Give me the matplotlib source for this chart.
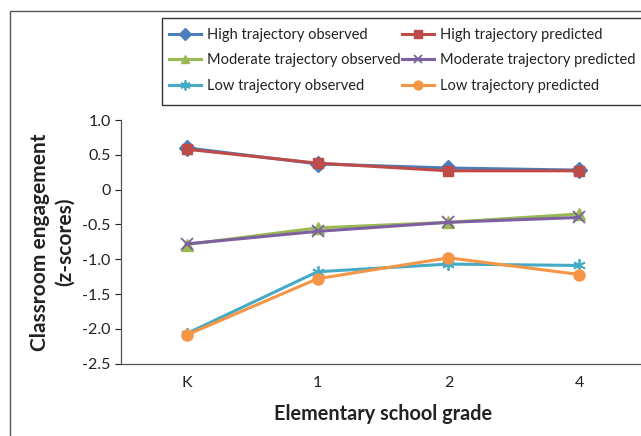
import matplotlib
matplotlib.use("Agg")
import matplotlib.pyplot as plt
from matplotlib.patches import Rectangle

plt.rcParams['font.family'] = ['Lato', 'DejaVu Sans']

grades = ["K", "1", "2", "4"]
high_obs = [0.60, 0.37, 0.31, 0.28]
high_pred = [0.58, 0.38, 0.27, 0.27]
mod_obs = [-0.79, -0.55, -0.47, -0.35]
mod_pred = [-0.78, -0.60, -0.47, -0.40]
low_obs = [-2.07, -1.18, -1.07, -1.09]
low_pred = [-2.09, -1.28, -0.98, -1.22]
y_ticks = [1.0, 0.5, 0.0, -0.5, -1.0, -1.5, -2.0, -2.5]
y_tick_labels = ["1.0", "0.5", "0", "-0.5", "-1.0", "-1.5", "-2.0", "-2.5"]

W, H = 641, 436
fig = plt.figure(figsize=(W / 100, H / 100), dpi=100)
ax = fig.add_axes([121 / W, (H - 363.6) / H, 524 / W, (363.6 - 120) / H])

x = list(range(len(grades)))
series = [
    ("High trajectory observed", high_obs, "#4A7EBB", "D", 8),
    ("High trajectory predicted", high_pred, "#BE4B48", "s", 7.5),
    ("Moderate trajectory observed", mod_obs, "#98B954", "^", 8),
    ("Moderate trajectory predicted", mod_pred, "#7D60A0", "x", 8),
    ("Low trajectory observed", low_obs, "#46AAC5", (6, 2, 0), 9),
    ("Low trajectory predicted", low_pred, "#F59646", "o", 8),
]
handles = {}
for name, vals, col, mk, ms in series:
    mew = 1.3 if mk == "x" or isinstance(mk, tuple) else 1.0
    h, = ax.plot(x, vals, color=col, lw=2.2, marker=mk, ms=ms,
                 markerfacecolor=col, markeredgecolor=col, markeredgewidth=mew,
                 label=name, solid_joinstyle='round')
    handles[name] = h

ax.set_xlim(-0.5, 3.5)
ax.set_ylim(-2.5, 1.0)
ax.set_xticks(x)
ax.set_xticklabels(grades)
ax.set_yticks(y_ticks)
ax.set_yticklabels(y_tick_labels)
ax.tick_params(axis='x', length=0, labelsize=11.5, pad=9, colors='#222222')
ax.tick_params(axis='y', length=4, direction='out', labelsize=11.5, colors='#222222', width=0.8)
for s in ["top", "right"]:
    ax.spines[s].set_visible(False)
for s in ["left", "bottom"]:
    ax.spines[s].set_color("#555555")
    ax.spines[s].set_linewidth(0.9)

ax.set_xlabel("Elementary school grade", fontsize=14.3, fontweight='bold', labelpad=10, color='#222222')
ax.set_ylabel("Classroom engagement\n(z-scores)", fontsize=15, fontweight='bold', labelpad=5.5, color='#222222', linespacing=1.3)

# outer frame
fig.patches.append(Rectangle((10 / W, -0.1), 1.2, (H - 11) / H + 0.1, transform=fig.transFigure,
                             fill=False, edgecolor="#555555", lw=1.0))
# legend frame
fig.patches.append(Rectangle((162 / W, (H - 105) / H), 1.0, 87 / H, transform=fig.transFigure,
                             fill=False, edgecolor="#333333", lw=1.0))

order = ["High trajectory observed", "Moderate trajectory observed", "Low trajectory observed",
         "High trajectory predicted", "Moderate trajectory predicted", "Low trajectory predicted"]
leg = fig.legend([handles[n] for n in order], order, loc='upper left',
                 bbox_to_anchor=(166 / W, (H - 25) / H), ncol=2, frameon=False,
                 fontsize=10.5, handlelength=2.2, handletextpad=0.4, columnspacing=0.1,
                 labelspacing=0.78, borderaxespad=0, borderpad=0.2, markerscale=0.8)
for t in leg.get_texts():
    t.set_color('#222222')

fig.savefig("out.png", dpi=100)
